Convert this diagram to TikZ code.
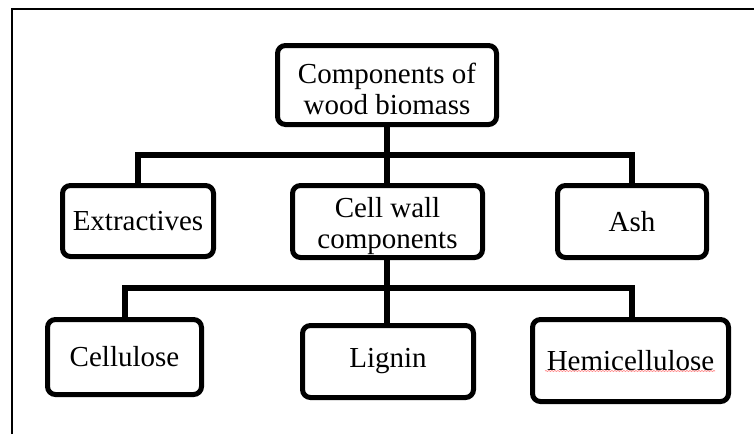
\documentclass[tikz,border=0pt]{standalone}
\usepackage{fontspec}
\setmainfont{Liberation Serif}
\usetikzlibrary{shadows,decorations.pathmorphing}
\begin{document}
\begin{tikzpicture}[x=1pt,y=-1pt,
  box/.style={draw=black, line width=5pt, rounded corners=8pt, fill=white,
    align=center, inner sep=0pt,
    font=\fontsize{29}{31}\selectfont,
    drop shadow={opacity=0.25, shadow xshift=1.5pt, shadow yshift=-1.5pt}},
  txt/.style={align=center, inner sep=0pt, font=\fontsize{29}{31}\selectfont},
  conn/.style={draw=black, line width=5.5pt, line join=miter},
  frameline/.style={draw=black, line width=2pt},
  spell/.style={draw=red!55, line width=0.6pt, decorate,
    decoration={snake, amplitude=0.5pt, segment length=3pt}}]
\useasboundingbox (0,0) rectangle (754,434);
\fill[white] (0,0) rectangle (754,434);
\draw[frameline] (12,434) -- (12,9) -- (754,9);

\coordinate (b1) at (387,155);
\coordinate (b2) at (387,288);

\draw[conn] (387,127) -- (387,183);
\draw[conn] (138,183) |- (b1) -| (632,183);
\draw[conn] (387,258) -- (387,323);
\draw[conn] (125,317) |- (b2) -| (632,317);

\node[box, minimum width=219pt, minimum height=79pt] (top) at (387,85) {};
\node[txt] (toptxt) at ([yshift=-3.5pt]top.center) {Components of\\wood biomass};
\node[box, minimum width=151pt, minimum height=71pt] (ext) at (138,221) {Extractives};
\node[box, minimum width=190pt, minimum height=72pt] (cell) at (387.5,221.5) {};
\node[txt] (celltxt) at ([yshift=-5pt]cell.center) {Cell wall\\components};
\node[box, minimum width=149pt, minimum height=72pt] (ash) at (632,221.5) {Ash};
\node[box, minimum width=154pt, minimum height=75pt] (cel) at (124.5,357) {Cellulose};
\node[box, minimum width=171pt, minimum height=72pt] (lig) at (388,361.5) {Lignin};
\node[box, minimum width=196pt, minimum height=82pt] (hemi) at (630.5,360.5) {Hemicellulose};

\coordinate (u1) at ([xshift=-85.5pt,yshift=-10.5pt]hemi.center);
\coordinate (u2) at ([xshift=84.5pt,yshift=-10.5pt]hemi.center);
\draw[spell] (u1) -- (u2);
\end{tikzpicture}
\end{document}
